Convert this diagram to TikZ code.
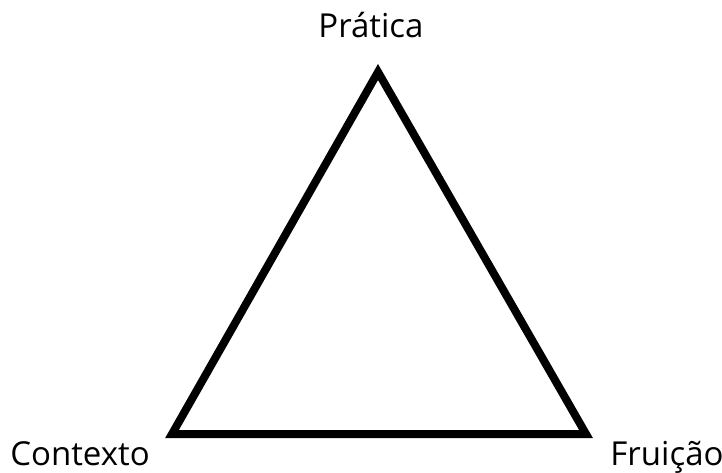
\documentclass[tikz,border=0pt]{standalone}
\usepackage{fontspec}
\setmainfont{Open Sans}
\begin{document}
\begin{tikzpicture}[x=1pt,y=-1pt,
  lbl/.style={inner sep=0pt,anchor=base,font=\fontsize{33}{36}\selectfont},
  edge/.style={line width=8pt,line join=miter}]
\useasboundingbox (0,0) rectangle (722,472);
\coordinate (A) at (378,72);
\coordinate (B) at (172,434);
\coordinate (C) at (586,434);
\draw[edge] (A) -- (B) -- (C) -- cycle;
\node[lbl] (pratica) at (371,37) {Prática};
\node[lbl] (contexto) at (80,465) {Contexto};
\node[lbl] (fruicao) at (667,465) {Fruição};
\end{tikzpicture}
\end{document}
